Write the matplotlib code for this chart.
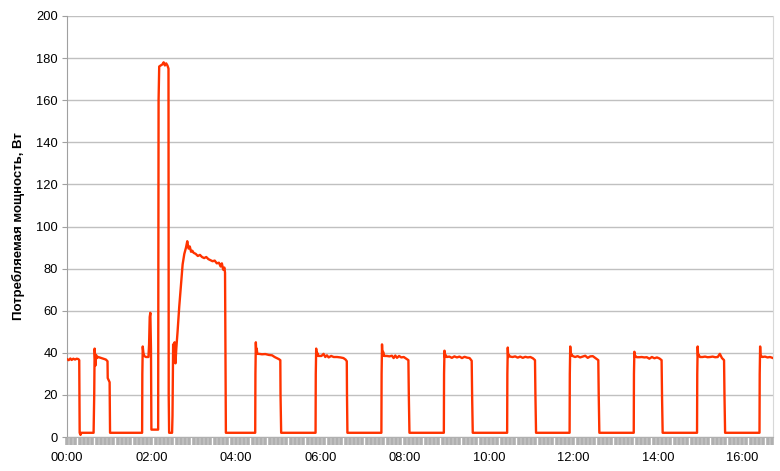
import matplotlib
matplotlib.use("Agg")
import matplotlib.pyplot as plt
from matplotlib.ticker import MultipleLocator

plt.rcParams['font.family'] = ['Liberation Sans', 'DejaVu Sans']

# time in hours since 00:00, power in W (one line per segment)
time_h = (
    [0.00, 0.04, 0.08, 0.11, 0.15, 0.19, 0.23, 0.27, 0.29, 0.30, 0.32, 0.34, 0.36, 0.63, 0.645, 0.655, 0.665, 0.675, 0.69, 0.71, 0.74, 0.80, 0.86, 0.92, 0.96, 0.965, 1.01, 1.02]
    + [1.78, 1.785, 1.795, 1.81, 1.83, 1.87, 1.93, 1.945, 1.96, 1.975, 1.99, 2.00, 2.01, 2.16, 2.17, 2.185, 2.22, 2.26, 2.29, 2.32, 2.35, 2.38, 2.405, 2.41, 2.42, 2.49, 2.50, 2.515, 2.53, 2.55, 2.57, 2.59, 2.62, 2.66, 2.70, 2.74, 2.78, 2.82, 2.85, 2.88, 2.91, 2.94, 2.97, 3.00, 3.05, 3.10, 3.15, 3.20, 3.25, 3.30, 3.35, 3.40, 3.45, 3.50, 3.55, 3.60, 3.64, 3.67, 3.70, 3.73, 3.745, 3.755, 3.765]
    + [4.46, 4.465, 4.475, 4.485, 4.495, 4.51, 4.55, 4.62, 4.70, 4.78, 4.86, 4.92, 4.97, 5.02, 5.055, 5.06, 5.075]
    + [5.89, 5.895, 5.905, 5.915, 5.93, 5.96, 6.03, 6.08, 6.12, 6.16, 6.20, 6.26, 6.32, 6.40, 6.48, 6.55, 6.60, 6.63, 6.635, 6.645]
    + [7.45, 7.455, 7.465, 7.475, 7.49, 7.52, 7.58, 7.64, 7.70, 7.74, 7.78, 7.82, 7.87, 7.92, 7.98, 8.04, 8.09, 8.10, 8.115]
    + [8.93, 8.935, 8.945, 8.955, 8.97, 9.00, 9.06, 9.12, 9.18, 9.24, 9.30, 9.36, 9.42, 9.48, 9.54, 9.59, 9.60, 9.615]
    + [10.43, 10.435, 10.445, 10.455, 10.47, 10.50, 10.56, 10.62, 10.68, 10.74, 10.80, 10.86, 10.92, 10.98, 11.04, 11.09, 11.10, 11.115]
    + [11.91, 11.915, 11.925, 11.935, 11.95, 11.98, 12.04, 12.10, 12.16, 12.22, 12.28, 12.34, 12.40, 12.46, 12.52, 12.59, 12.60, 12.615]
    + [13.43, 13.435, 13.445, 13.455, 13.47, 13.50, 13.56, 13.62, 13.68, 13.74, 13.80, 13.86, 13.92, 13.98, 14.04, 14.09, 14.10, 14.115]
    + [14.93, 14.935, 14.945, 14.955, 14.97, 15.00, 15.06, 15.12, 15.18, 15.24, 15.30, 15.36, 15.42, 15.47, 15.52, 15.57, 15.58, 15.595]
    + [16.41, 16.415, 16.425, 16.435, 16.45, 16.48, 16.54, 16.60, 16.66, 16.73]
)
power_w = (
    [37, 36.5, 37.3, 36.6, 37.2, 36.8, 37.2, 37, 36.5, 2, 1, 2, 2, 2, 20, 42, 38, 34, 39, 37.5, 38, 37.6, 37.2, 36.8, 36, 28, 26, 2]
    + [2, 30, 43, 40, 38.5, 38, 38, 44, 57, 59, 42, 3.5, 3.5, 3.5, 160, 176, 176.5, 177, 178, 176.5, 177.5, 176.5, 175, 20, 2, 2, 10, 44, 38, 45, 35, 42, 50, 62, 72, 82, 87, 90, 93, 89.5, 90.5, 88, 88.5, 87.5, 87, 86, 86.5, 85.5, 85, 85.5, 84.5, 84, 83.5, 83.8, 82.5, 82.8, 81, 82.5, 79.5, 80.5, 78, 40, 2]
    + [2, 30, 45, 40, 42, 39.5, 39.5, 39.3, 39.4, 39, 38.8, 38, 37.5, 37, 36.5, 20, 2]
    + [2, 30, 42, 38.5, 40, 38.5, 38.5, 39.5, 38, 38.8, 37.8, 38.5, 38, 38, 37.8, 37.5, 36.8, 36, 20, 2]
    + [2, 30, 44, 38.5, 40.5, 38.5, 38.5, 38.3, 38.6, 37.5, 38.7, 37.6, 38.5, 37.8, 38, 37.2, 36.5, 20, 2]
    + [2, 30, 41, 38, 39, 38, 38.2, 37.6, 38.3, 37.8, 38.2, 37.5, 38.1, 37.7, 37.5, 36.2, 20, 2]
    + [2, 30, 42.5, 38, 39, 38.2, 38, 38.3, 37.7, 38.2, 37.6, 38.1, 37.8, 38, 37.4, 36.5, 20, 2]
    + [2, 30, 43, 38.5, 39.5, 38.5, 38, 38.4, 37.8, 38.2, 38.6, 37.6, 38.3, 38.4, 37.5, 36.5, 20, 2]
    + [2, 30, 40.5, 38, 38.5, 37.9, 37.9, 38, 37.8, 37.9, 37.2, 38, 37.4, 37.8, 37.3, 36.5, 20, 2]
    + [2, 30, 43, 38.5, 39, 38, 38, 38.2, 37.9, 38, 38.2, 37.9, 38, 39.5, 37.5, 36.5, 20, 2]
    + [2, 30, 43, 38, 38.5, 38, 38.2, 37.8, 38, 37.5]
)

x_ticks = [0, 2, 4, 6, 8, 10, 12, 14, 16]
x_labels = ["00:00", "02:00", "04:00", "06:00", "08:00", "10:00", "12:00", "14:00", "16:00"]
y_ticks = [0, 20, 40, 60, 80, 100, 120, 140, 160, 180, 200]
y_label = "Потребляемая мощность, Вт"

fig = plt.figure(figsize=(7.8, 4.71), dpi=100)
ax = fig.add_axes([67/780, 34/471, (773-67)/780, (437-16)/471])

ax.plot(time_h, power_w, color="#FF3300", lw=1.7, solid_joinstyle="round", zorder=3)

ax.set_xlim(0, 16.73)
ax.set_ylim(0, 200)
ax.set_yticks(y_ticks)
ax.set_xticks(x_ticks)
ax.set_xticklabels(x_labels)
ax.xaxis.set_minor_locator(MultipleLocator(0.1))

ax.grid(axis="y", color="#c0c0c0", lw=1.0, zorder=1)
ax.spines["top"].set_visible(False)
ax.spines["left"].set_color("#a0a0a0")
ax.spines["right"].set_color("#d8d8d8")
ax.spines["bottom"].set_color("#b0b0b0")

ax.tick_params(axis="y", length=3.5, width=0.8, color="#a0a0a0", pad=3, labelsize=9.3)
ax.tick_params(axis="x", which="major", length=5.5, width=2.6, color="#b0b0b0", pad=5, labelsize=9.3)
ax.tick_params(axis="x", which="minor", length=5.5, width=2.6, color="#b0b0b0")

ax.set_ylabel(y_label, fontsize=9.5, fontweight="bold", labelpad=8)

fig.savefig("out.png", dpi=100)
